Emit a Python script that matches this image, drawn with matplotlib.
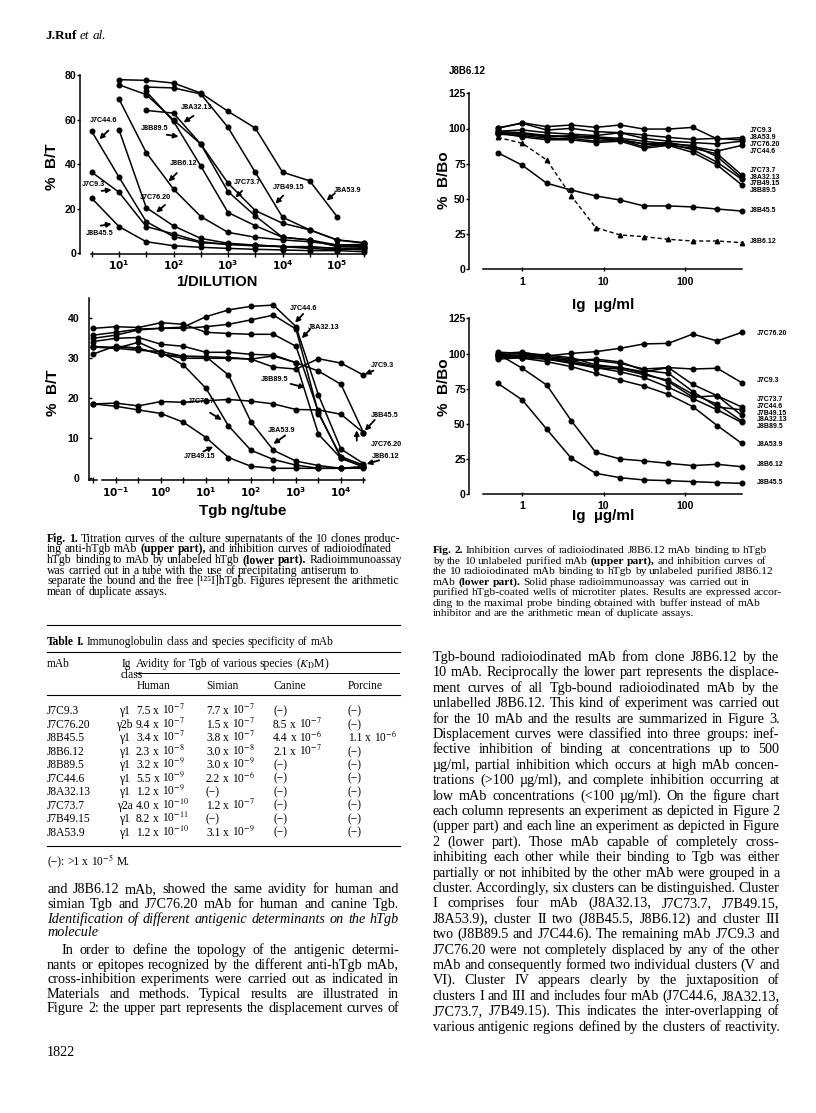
import numpy as np
import matplotlib
matplotlib.use("Agg")
import matplotlib.pyplot as plt
from matplotlib.transforms import Affine2D
from matplotlib.lines import Line2D
from matplotlib.ticker import NullLocator

SANS = ["Liberation Sans", "DejaVu Sans"]
SERIF = ["Liberation Serif", "DejaVu Serif"]
plt.rcParams["font.family"] = SANS
plt.rcParams["axes.linewidth"] = 1.1
nan = np.nan

# ------------------------------------------------------------------ data
# Fig. 1 upper part: % B/T vs 1/dilution
dilution = [3.16, 10, 31.6, 100, 316, 1000, 3160, 10000, 31600, 100000, 316000]
fig1_upper = {
    "J8A53.9":  [nan, 77.9, 77.6, 76.4, 71.9, 63.7, 56.2, 36.4, 32.5, 16.5, nan],
    "J7B49.15": [nan, nan, 74.6, 74.2, 71.5, 56.5, 36.4, 16.2, 10.5, 6.0, 4.5],
    "J7C73.7":  [nan, 75.6, 71.2, 59.9, 49.0, 31.5, 19.2, 13.5, 10.5, 6.0, 4.8],
    "J8B89.5":  [nan, nan, 72.6, 59.2, 39.2, 18.3, 12.4, 7.2, 6.0, 3.7, 3.3],
    "J8A32.13": [nan, nan, 64.1, 62.9, 49.0, 27.7, 16.8, 7.2, 6.0, 3.0, 3.0],
    "J8B6.12":  [nan, 69.2, 45.2, 28.8, 16.5, 9.4, 7.2, 6.0, 5.2, 3.7, 4.0],
    "J7C76.20": [nan, 55.4, 20.5, 12.3, 6.7, 4.5, 3.7, 3.0, 2.2, 1.5, 2.2],
    "J7C44.6":  [54.7, 34.2, 14.2, 7.5, 4.8, 4.0, 3.7, 3.0, 3.0, 2.2, 2.5],
    "J7C9.3":   [36.4, 27.4, 12.0, 8.7, 5.2, 4.0, 3.3, 3.0, 2.7, 2.2, 1.5],
    "J8B45.5":  [24.7, 12.0, 5.2, 3.4, 2.7, 2.2, 1.8, 1.5, 1.2, 1.2, 0.7],
}

# Fig. 1 lower part: % B/T vs Tgb ng/tube
tgb_ng = [0.0316, 0.1, 0.316, 1, 3.16, 10, 31.6, 100, 316, 1000, 3160, 10000, 31600]
fig1_lower = {
    "J7C44.6":  [35.8, 36.5, 37.3, 37.5, 37.8, 40.4, 42.1, 43.0, 43.3, 37.9, 20.8, 7.3, 3.7],
    "J8A32.13": [35.0, 35.8, 37.1, 37.5, 37.5, 37.9, 38.5, 39.6, 40.8, 37.3, 16.2, 5.4, 3.3],
    "J8B89.5":  [37.5, 37.9, 37.7, 38.9, 38.5, 36.5, 36.2, 36.0, 36.0, 33.0, 16.5, 5.0, 2.9],
    "J8B6.12":  [34.2, 35.0, 35.2, 33.5, 33.0, 31.5, 31.5, 31.0, 30.8, 28.9, 11.0, 5.0, 2.9],
    "J7C76.20": [32.8, 32.5, 32.0, 31.7, 30.5, 30.4, 30.2, 29.8, 30.6, 28.9, 26.8, 23.5, 11.4],
    "J7C9.3":   [31.1, 33.1, 32.5, 31.0, 30.0, 30.0, 30.0, 29.8, 27.8, 27.3, 29.9, 28.8, 25.8],
    "J8B45.5":  [18.6, 18.8, 18.1, 19.2, 19.0, 19.4, 19.7, 19.3, 18.6, 17.2, 17.1, 16.0, 11.4],
    "J7B49.15": [18.6, 18.0, 17.1, 16.2, 14.0, 10.2, 5.2, 3.0, 2.5, 2.5, 2.5, 2.5, 2.5],
    "J7C73.7":  [33.0, 32.5, 34.0, 31.5, 28.3, 22.5, 13.1, 7.0, 4.7, 3.3, 2.5, 2.5, 2.9],
    "J8A53.9":  [32.8, 32.8, 32.5, 31.0, 30.5, 30.4, 25.8, 14.1, 7.0, 4.3, 3.2, 2.5, 2.9],
}

# Fig. 2: % B/Bo vs Ig ug/ml
ig_ugml = [0.5, 1, 2, 4, 8, 16, 31.25, 62.5, 125, 250, 500]
fig2_upper = {
    "J7C9.3":   [100.1, 104.1, 101.3, 102.5, 100.8, 102.5, 99.6, 99.6, 100.8, 92.5, 93.5],
    "J8A53.9":  [100.5, 103.7, 98.9, 100.1, 97.8, 97.0, 95.4, 93.7, 92.3, 93.0, 91.8],
    "J7C76.20": [98.0, 99.0, 97.0, 96.0, 95.0, 97.0, 93.0, 91.0, 90.0, 89.0, 91.0],
    "J7C44.6":  [97.0, 96.0, 95.0, 94.0, 93.0, 92.0, 89.0, 90.0, 87.0, 84.0, 88.0],
    "J7C73.7":  [98.0, 97.0, 95.0, 94.0, 93.0, 92.0, 89.0, 88.0, 86.0, 82.0, 67.0],
    "J8A32.13": [97.0, 96.0, 94.0, 95.0, 94.0, 93.0, 91.0, 89.0, 88.0, 80.0, 65.0],
    "J7B49.15": [96.0, 95.0, 93.0, 93.0, 91.0, 92.0, 87.0, 89.0, 85.0, 76.0, 64.0],
    "J8B89.5":  [97.0, 94.0, 92.0, 92.0, 90.0, 91.0, 86.0, 88.0, 83.0, 74.0, 60.0],
    "J8B45.5":  [82.8, 73.9, 61.1, 56.3, 52.1, 49.2, 45.0, 45.0, 44.3, 42.8, 41.4],
    "J8B6.12":  [93.7, 89.5, 77.6, 52.1, 29.6, 24.4, 23.2, 21.3, 20.1, 20.1, 18.9],
}
fig2_lower = {
    "J7C76.20": [98.9, 98.2, 98.2, 100.1, 101.3, 103.7, 106.8, 107.2, 113.8, 108.9, 115.0],
    "J7C9.3":   [101.0, 100.0, 99.0, 97.0, 92.0, 90.0, 87.0, 90.0, 89.0, 89.5, 79.3],
    "J7C73.7":  [100.0, 101.0, 98.0, 96.0, 95.0, 93.0, 89.0, 90.0, 78.0, 70.0, 62.0],
    "J7C44.6":  [99.0, 100.0, 97.0, 95.0, 96.0, 94.0, 88.0, 86.0, 73.0, 62.0, 60.0],
    "J7B49.15": [98.0, 99.0, 97.0, 95.0, 91.0, 90.0, 86.0, 80.0, 69.0, 70.0, 56.0],
    "J8A32.13": [97.0, 98.0, 96.0, 94.0, 90.0, 89.0, 85.0, 81.0, 71.0, 64.0, 52.0],
    "J8B89.5":  [96.0, 97.0, 96.0, 93.0, 90.0, 87.0, 83.0, 76.0, 68.0, 60.0, 51.0],
    "J8A53.9":  [98.2, 96.6, 94.2, 90.7, 85.9, 81.2, 76.9, 71.0, 62.3, 48.8, 36.2],
    "J8B6.12":  [99.7, 89.5, 77.6, 52.3, 29.8, 25.1, 23.7, 22.0, 20.4, 21.3, 19.6],
    "J8B45.5":  [78.8, 67.0, 46.2, 25.6, 14.9, 11.8, 10.2, 9.7, 9.0, 8.3, 7.8],
}

# Table I
table_mab = ["J7C9.3", "J7C76.20", "J8B45.5", "J8B6.12", "J8B89.5",
             "J7C44.6", "J8A32.13", "J7C73.7", "J7B49.15", "J8A53.9"]
table_ig = ["γ1", "γ2b", "γ1", "γ1", "γ1", "γ1", "γ1", "γ2a", "γ1", "γ1"]
kd_human = ["7.5e-7", "9.4e-7", "3.4e-7", "2.3e-8", "3.2e-9", "5.5e-9", "1.2e-9", "4.0e-10", "8.2e-11", "1.2e-10"]
kd_simian = ["7.7e-7", "1.5e-7", "3.8e-7", "3.0e-8", "3.0e-9", "2.2e-6", None, "1.2e-7", None, "3.1e-9"]
kd_canine = [None, "8.5e-7", "4.4e-6", "2.1e-7", None, None, None, None, None, None]
kd_porcine = [None, None, "1.1e-6", None, None, None, None, None, None, None]

# ------------------------------------------------------------------ figure
W, H = 816, 1113
fig = plt.figure(figsize=(W / 100, H / 100), dpi=100)
fig.patch.set_facecolor("white")
T = Affine2D().scale(1.0 / W, -1.0 / H).translate(0, 1) + fig.transFigure
R = fig.canvas.get_renderer()


def make_axes(box, xref, yref):
    left, top, right, bottom = box
    (pa, va), (pb, vb) = xref
    la, lb = np.log10(va), np.log10(vb)
    k = (lb - la) / (pb - pa)
    x0 = 10 ** (la + (left - pa) * k)
    x1 = 10 ** (la + (right - pa) * k)
    (qa, ua), (qb, ub) = yref
    m = (ub - ua) / (qb - qa)
    y0 = ua + (bottom - qa) * m
    y1 = ua + (top - qa) * m
    ax = fig.add_axes([left / W, 1 - bottom / H, (right - left) / W, (bottom - top) / H])
    ax.set_xscale("log")
    ax.set_xlim(x0, x1)
    ax.set_ylim(y0, y1)
    ax.patch.set_alpha(0)
    for s in ("top", "right"):
        ax.spines[s].set_visible(False)
    ax.xaxis.set_minor_locator(NullLocator())
    return ax


def draw_series(ax, x, table, dashed=()):
    for name, vals in table.items():
        y = np.array(vals, dtype=float)
        if name in dashed:
            ax.plot(x, y, color="k", lw=1.0, ls=(0, (3, 2)), marker="^", ms=3.2,
                    mfc="k", mec="k", clip_on=False)
        else:
            ax.plot(x, y, color="k", lw=1.1, marker="o", ms=3.3,
                    mfc="k", mec="k", clip_on=False)


def tag(ax, name, txt, tail, head, ha="center"):
    ax.text(txt[0], txt[1], name, fontsize=5.2, weight="bold", ha=ha, va="center",
            clip_on=False)
    ax.annotate("", xy=head, xytext=tail,
                arrowprops=dict(arrowstyle="-|>", lw=1.3, color="k", mutation_scale=7,
                                shrinkA=0, shrinkB=0),
                annotation_clip=False)


def bold_pow(e):
    return r"$\mathbf{10^{%d}}$" % e


TICK = dict(fontsize=7.6, fontweight="bold")

# ---------------- Fig. 1 upper
ax1 = make_axes((80, 72, 368, 254.3), ((119, 10), (337, 1e5)), ((253.3, 0), (75, 80)))
draw_series(ax1, dilution, fig1_upper)
ax1.spines["left"].set_bounds(ax1.get_ylim()[0], 80)
ax1.spines["bottom"].set_bounds(10 ** 0.49, 10 ** 5.52)
ax1.set_xticks([10, 1e2, 1e3, 1e4, 1e5], labels=[bold_pow(e) for e in range(1, 6)], **TICK)
ax1.set_xticks([10 ** (e + 0.5) for e in range(0, 6)], minor=True)
ax1.tick_params(axis="x", which="both", direction="inout", length=4, width=1, pad=1)
ax1.set_yticks([0, 20, 40, 60, 80], labels=["0", "20", "40", "60", "80"], **TICK)
ax1.tick_params(axis="y", direction="out", length=2, width=1, pad=0.5)
tag(ax1, "J7C44.6", (5.3, 59.6), (6.4, 55.1), (4.35, 51.2))
tag(ax1, "J7C9.3", (3.37, 30.7), (4.8, 28.0), (7.33, 28.5))
tag(ax1, "J8B45.5", (4.47, 9.0), (4.6, 12.4), (7.33, 13.2))
tag(ax1, "J8A32.13", (269, 65.5), (233, 61.7), (153, 58.7))
tag(ax1, "J8B89.5", (46, 56.2), (75, 53.2), (124, 52.4))
tag(ax1, "J8B6.12", (153, 40.4), (115, 36.0), (81, 32.2))
tag(ax1, "J7C76.20", (46, 25.0), (70, 21.7), (48, 18.3))
tag(ax1, "J7C73.7", (2240, 31.9), (1810, 28.0), (1365, 25.0))
tag(ax1, "J7B49.15", (13100, 29.5), (10280, 25.9), (7430, 22.2))
tag(ax1, "J8A53.9", (155000, 28.0), (91800, 27.0), (64600, 23.7))
fig.text(52, 167, "%  B/T", transform=T, rotation=90, fontsize=11, weight="bold",
         ha="center", va="center")
fig.text(217, 281.7, "1/DILUTION", transform=T, fontsize=10.5, weight="bold",
         ha="center", va="center")

# ---------------- Fig. 1 lower
ax2 = make_axes((89, 294, 368, 479.5), ((116, 0.1), (341, 1e4)), ((478.3, 0), (318.3, 40)))
draw_series(ax2, tgb_ng, fig1_lower)
y20 = ax2.get_ylim()[0]
ax2.spines["left"].set_bounds(y20, 45)
ax2.spines["bottom"].set_bounds(10 ** -1.32, 10 ** 4.53)
ax2.plot([10 ** -1.6, 10 ** -1.42], [y20, y20], color="k", lw=1.1, clip_on=False)
ax2.set_xticks([0.1, 1, 10, 100, 1e3, 1e4], labels=[bold_pow(e) for e in range(-1, 5)], **TICK)
ax2.set_xticks([0.0316, 0.316, 3.16, 31.6, 316, 3160, 31600], minor=True)
ax2.tick_params(axis="x", which="both", direction="inout", length=4, width=1, pad=2)
ax2.set_yticks([0, 10, 20, 30, 40], labels=["0", "10", "20", "30", "40"], **TICK)
ax2.tick_params(axis="y", direction="in", length=2, width=1, pad=7)
tag(ax2, "J7C44.6", (10 ** 3.16, 42.5), (10 ** 3.16, 41.1), (10 ** 2.98, 38.9))
tag(ax2, "J8A32.13", (10 ** 3.62, 37.7), (10 ** 3.31, 37.2), (10 ** 3.13, 35.0))
tag(ax2, "J7C9.3", (10 ** 4.92, 28.2), (10 ** 4.72, 26.9), (10 ** 4.53, 26.0))
tag(ax2, "J8B89.5", (10 ** 2.53, 24.6), (10 ** 2.88, 23.6), (10 ** 3.2, 22.7))
tag(ax2, "J8B45.5", (10 ** 4.98, 15.8), (10 ** 4.75, 14.6), (10 ** 4.53, 11.9))
tag(ax2, "J7C76.20", (10 ** 5.0, 8.4), (10 ** 4.35, 9.4), (10 ** 4.35, 12.0))
tag(ax2, "J8B6.12", (10 ** 5.0, 5.4), (10 ** 4.85, 4.5), (10 ** 4.57, 3.6))
tag(ax2, "J7C73.7", (10 ** 0.9, 19.2), (10 ** 1.09, 16.4), (10 ** 1.35, 14.6))
tag(ax2, "J8A53.9", (10 ** 2.68, 11.9), (10 ** 2.76, 10.7), (10 ** 2.5, 8.6))
tag(ax2, "J7B49.15", (10 ** 0.87, 5.4), (10 ** 0.94, 6.7), (10 ** 1.16, 7.9))
fig.text(53, 393, "%  B/T", transform=T, rotation=90, fontsize=11, weight="bold",
         ha="center", va="center")
fig.text(243, 511, "Tgb ng/tube", transform=T, fontsize=11, weight="bold",
         ha="center", va="center")

# ---------------- Fig. 2 upper / lower
labels_up = {"J7C9.3": 98.5, "J8A53.9": 93.5, "J7C76.20": 88.3, "J7C44.6": 83.5,
             "J7C73.7": 70.5, "J8A32.13": 65.3, "J7B49.15": 60.6, "J8B89.5": 55.9,
             "J8B45.5": 42.1, "J8B6.12": 19.6}
labels_lo = {"J7C76.20": 114.3, "J7C9.3": 80.5, "J7C73.7": 67.0, "J7C44.6": 62.3,
             "J7B49.15": 57.5, "J8A32.13": 53.3, "J8B89.5": 48.5, "J8A53.9": 35.5,
             "J8B6.12": 21.5, "J8B45.5": 8.3}
for box, yref, table, labs, lab_x, dashed, ylab_y, xl_y, xpad in (
        ((469, 89, 745, 269.3), ((269.3, 0), (93.3, 125)), fig2_upper, labels_up, 631,
         ("J8B6.12",), 180, 305, 4.3),
        ((469, 314, 745, 494.3), ((494.3, 0), (318.3, 125)), fig2_lower, labels_lo, 764,
         (), 387, 516, 3.0)):
    ax = make_axes(box, ((522.3, 1), (684.9, 100)), yref)
    ax.set_ylim(0, ax.get_ylim()[1])
    draw_series(ax, ig_ugml, table, dashed=dashed)
    ax.spines["left"].set_bounds(0, 125)
    ax.spines["bottom"].set_bounds(10 ** -0.483, 10 ** 2.699)
    ax.set_xticks([1, 10, 100], labels=["1", "10", "100"], **TICK)
    ax.tick_params(axis="x", direction="inout", length=3, width=1, pad=xpad)
    ax.set_yticks([0, 25, 50, 75, 100, 125],
                  labels=["0", "25", "50", "75", "100", "125"], **TICK)
    ax.tick_params(axis="y", direction="out", length=2, width=1, pad=0.3)
    for name, yv in labs.items():
        ax.text(lab_x, yv, name, fontsize=5.0, weight="bold", ha="left", va="center",
                clip_on=False)
    fig.text(444, ylab_y, "%  B/Bo", transform=T, rotation=90, fontsize=11,
             weight="bold", ha="center", va="center")
    fig.text(603, xl_y, "Ig  µg/ml", transform=T, fontsize=11, weight="bold",
             ha="center", va="center")
fig.text(449, 71, "J8B6.12", transform=T, fontsize=7, weight="bold", ha="left",
         va="center")

# ------------------------------------------------------------------ text
def measure_plain(s, size, family=SERIF):
    t = fig.text(0, 0, s.replace("*", "").replace("~", ""), fontsize=size,
                 family=family, math_fontfamily="stix")
    w = t.get_window_extent(R).width
    t.remove()
    return w


def fit_size(s, target, family=SERIF):
    return 10.0 * target / measure_plain(s, 10.0, family)


def put_line(line, x0, yc, size, x1=None, family=SERIF, style="normal", weight="normal",
             center=False):
    yb = yc + 0.3 * size * 100 / 72
    items = []
    for w in line.split():
        wt, st = weight, style
        if w.startswith("*"):
            wt, w = "bold", w[1:]
        elif w.startswith("~"):
            st, w = "italic", w[1:]
        items.append(fig.text(0, yb, w, transform=T, fontsize=size, family=family,
                              weight=wt, style=st, ha="left", va="baseline",
                              math_fontfamily="stix"))
    widths = [t.get_window_extent(R).width for t in items]
    if x1 is not None and len(items) > 1:
        gap = (x1 - x0 - sum(widths)) / (len(items) - 1)
    else:
        gap = 0.25 * size * 100 / 72
    if center:
        x0 = x0 - (sum(widths) + gap * (len(items) - 1)) / 2
    x = x0
    for t, w in zip(items, widths):
        t.set_x(x)
        x += w + gap


def hline(x0, x1, y, lw=0.8):
    fig.add_artist(Line2D([x0, x1], [y, y], transform=T, color="k", lw=lw))


# header and page number
put_line("*J.Ruf ~et ~al.", 45, 35, 9.5)
put_line("1822", 47, 1052, 10.2)

# Fig. 1 caption
cap1 = [
    "*Fig. *1. Titration curves of the culture supernatants of the 10 clones produc-",
    "ing anti-hTgb mAb *(upper *part), and inhibition curves of radioiodinated",
    "hTgb binding to mAb by unlabeled hTgb *(lower *part). Radioimmunoassay",
    "was carried out in a tube with the use of precipitating antiserum to",
    "separate the bound and the free [¹²⁵I]hTgb. Figures represent the arithmetic",
    "mean of duplicate assays.",
]
s_cap1 = fit_size(cap1[0], 351.7)
for i, ln in enumerate(cap1):
    put_line(ln, 47, 538 + 10.7 * i, s_cap1)

# Fig. 2 caption
cap2 = [
    "*Fig. *2. Inhibition curves of radioiodinated J8B6.12 mAb binding to hTgb",
    "by the 10 unlabeled purified mAb *(upper *part), and inhibition curves of",
    "the 10 radioiodinated mAb binding to hTgb by unlabeled purified J8B6.12",
    "mAb *(lower *part). Solid phase radioimmunoassay was carried out in",
    "purified hTgb-coated wells of microtiter plates. Results are expressed accor-",
    "ding to the maximal probe binding obtained with buffer instead of mAb",
    "inhibitor and are the arithmetic mean of duplicate assays.",
]
s_cap2 = fit_size(cap2[4], 349)
for i, ln in enumerate(cap2):
    put_line(ln, 432.7, 550 + 10.45 * i, s_cap2)

# Table I
title = "*Table *I. Immunoglobulin class and species specificity of mAb"
s_tab = fit_size(title, 285)
hline(47, 400, 625)
put_line(title, 47, 641.7, s_tab)
hline(47, 400, 651.7)
put_line("mAb", 47, 664, s_tab)
put_line("Ig", 121.7, 664, s_tab)
put_line(r"Avidity for Tgb of various species ($K_{\mathrm{D}}$M)", 136, 664, s_tab)
hline(136, 399, 672.7, lw=0.7)
put_line("class", 120.5, 675, s_tab)
for x, h in ((137, "Human"), (206, "Simian"), (273, "Canine"), (348, "Porcine")):
    put_line(h, x, 685.5, s_tab)
hline(47, 400, 695)


def kd_text(v):
    if v is None:
        return "(−)"
    m, e = v.split("e")
    return "%s x 10$^{%d}$" % (m, int(e))


for i in range(len(table_mab)):
    yc = 711 + 13.45 * i
    put_line(table_mab[i], 47, yc, s_tab)
    put_line(table_ig[i], 125.5, yc, s_tab, center=True)
    put_line(kd_text(kd_human[i]), 136, yc, s_tab)
    put_line(kd_text(kd_simian[i]), 206, yc, s_tab)
    put_line(kd_text(kd_canine[i]), 273, yc, s_tab)
    put_line(kd_text(kd_porcine[i]), 348, yc, s_tab)
hline(47, 400, 845.7)
put_line("(−): >1 x 10$^{-5}$ M.", 47, 861.7, s_tab)

# body text
right_body = [
    "Tgb-bound radioiodinated mAb from clone J8B6.12 by the",
    "10 mAb. Reciprocally the lower part represents the displace-",
    "ment curves of all Tgb-bound radioiodinated mAb by the",
    "unlabelled J8B6.12. This kind of experiment was carried out",
    "for the 10 mAb and the results are summarized in Figure 3.",
    "Displacement curves were classified into three groups: inef-",
    "fective inhibition of binding at concentrations up to 500",
    "µg/ml, partial inhibition which occurs at high mAb concen-",
    "trations (>100 µg/ml), and complete inhibition occurring at",
    "low mAb concentrations (<100 µg/ml). On the figure chart",
    "each column represents an experiment as depicted in Figure 2",
    "(upper part) and each line an experiment as depicted in Figure",
    "2 (lower part). Those mAb capable of completely cross-",
    "inhibiting each other while their binding to Tgb was either",
    "partially or not inhibited by the other mAb were grouped in a",
    "cluster. Accordingly, six clusters can be distinguished. Cluster",
    "I comprises four mAb (J8A32.13, J7C73.7, J7B49.15,",
    "J8A53.9), cluster II two (J8B45.5, J8B6.12) and cluster III",
    "two (J8B89.5 and J7C44.6). The remaining mAb J7C9.3 and",
    "J7C76.20 were not completely displaced by any of the other",
    "mAb and consequently formed two individual clusters (V and",
    "VI). Cluster IV appears clearly by the juxtaposition of",
    "clusters I and III and includes four mAb (J7C44.6, J8A32.13,",
    "J7C73.7, J7B49.15). This indicates the inter-overlapping of",
    "various antigenic regions defined by the clusters of reactivity.",
]
s_body = fit_size(right_body[-1], 346.7)
for i, ln in enumerate(right_body):
    last = i == len(right_body) - 1
    put_line(ln, 432.7, 656.7 + 15.4 * i, s_body, x1=None if last else 779.5)

left_body = [
    ("and J8B6.12 mAb, showed the same avidity for human and", 47, 889, True, "normal"),
    ("simian Tgb and J7C76.20 mAb for human and canine Tgb.", 47, 903.3, True, "normal"),
    ("Identification of different antigenic determinants on the hTgb", 47, 918.3, True, "italic"),
    ("molecule", 47, 931.7, False, "italic"),
    ("In order to define the topology of the antigenic determi-", 61.5, 950, True, "normal"),
    ("nants or epitopes recognized by the different anti-hTgb mAb,", 47, 964.3, True, "normal"),
    ("cross-inhibition experiments were carried out as indicated in", 47, 978.7, True, "normal"),
    ("Materials and methods. Typical results are illustrated in", 47, 993.3, True, "normal"),
    ("Figure 2: the upper part represents the displacement curves of", 47, 1007.7, True, "normal"),
]
for ln, x0, yc, just, st in left_body:
    put_line(ln, x0, yc, s_body, x1=399 if just else None, style=st)

fig.savefig("out.png", dpi=100, facecolor="white")
